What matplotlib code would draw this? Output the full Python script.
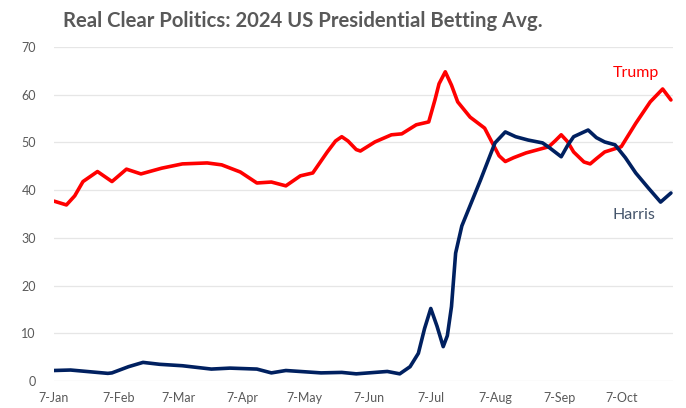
import matplotlib
matplotlib.use('Agg')
import matplotlib.pyplot as plt
import matplotlib.dates as mdates
import pandas as pd

plt.rcParams['font.family'] = ['Lato', 'DejaVu Sans']

# Data (daily betting average, %)
trump_dates = ['2024-01-07', '2024-01-13', '2024-01-17', '2024-01-21', '2024-01-28', '2024-02-04',
               '2024-02-11', '2024-02-18', '2024-02-28', '2024-03-09', '2024-03-21', '2024-03-28',
               '2024-04-06', '2024-04-14', '2024-04-21', '2024-04-28', '2024-05-05', '2024-05-11',
               '2024-05-18', '2024-05-22', '2024-05-25', '2024-05-28', '2024-06-01', '2024-06-03',
               '2024-06-10', '2024-06-18', '2024-06-23', '2024-06-30', '2024-07-06', '2024-07-09',
               '2024-07-11', '2024-07-14', '2024-07-17', '2024-07-20', '2024-07-26', '2024-08-02',
               '2024-08-05', '2024-08-09', '2024-08-12', '2024-08-16', '2024-08-22', '2024-09-02',
               '2024-09-05', '2024-09-08', '2024-09-11', '2024-09-14', '2024-09-19', '2024-09-22',
               '2024-09-25', '2024-09-29', '2024-10-07', '2024-10-14', '2024-10-21', '2024-10-27',
               '2024-10-31']
trump_values = [37.7, 36.9, 38.8, 41.8, 43.9, 41.8,
                44.4, 43.4, 44.6, 45.5, 45.7, 45.3,
                43.8, 41.5, 41.7, 40.9, 43.0, 43.6,
                48.0, 50.3, 51.2, 50.3, 48.5, 48.2,
                50.1, 51.6, 51.8, 53.7, 54.3, 58.9,
                62.3, 64.8, 62.0, 58.5, 55.3, 53.0,
                50.5, 47.2, 46.0, 46.8, 47.8, 49.1,
                50.3, 51.6, 50.2, 48.0, 45.9, 45.5,
                46.6, 48.0, 49.1, 54.0, 58.5, 61.2,
                58.9]

harris_dates = ['2024-01-07', '2024-01-15', '2024-02-02', '2024-02-04', '2024-02-12', '2024-02-19',
                '2024-02-27', '2024-03-09', '2024-03-23', '2024-04-01', '2024-04-14', '2024-04-21',
                '2024-04-28', '2024-05-15', '2024-05-25', '2024-06-01', '2024-06-16', '2024-06-22',
                '2024-06-27', '2024-07-01', '2024-07-04', '2024-07-07', '2024-07-10', '2024-07-13',
                '2024-07-15', '2024-07-17', '2024-07-19', '2024-07-22', '2024-07-31', '2024-08-07',
                '2024-08-12', '2024-08-17', '2024-08-23', '2024-08-30', '2024-09-02', '2024-09-08',
                '2024-09-11', '2024-09-14', '2024-09-21', '2024-09-25', '2024-09-29', '2024-10-04',
                '2024-10-09', '2024-10-14', '2024-10-20', '2024-10-26', '2024-10-31']
harris_values = [2.2, 2.3, 1.6, 1.7, 3.0, 3.9,
                 3.5, 3.2, 2.5, 2.7, 2.5, 1.7,
                 2.2, 1.7, 1.8, 1.5, 2.0, 1.5,
                 3.0, 5.8, 11.0, 15.2, 11.5, 7.2,
                 9.5, 15.6, 26.8, 32.5, 42.1, 49.9,
                 52.2, 51.2, 50.5, 49.9, 49.0, 47.0,
                 49.3, 51.2, 52.6, 51.0, 50.1, 49.5,
                 46.8, 43.6, 40.5, 37.5, 39.4]

trump = pd.Series(trump_values, index=pd.to_datetime(trump_dates))
harris = pd.Series(harris_values, index=pd.to_datetime(harris_dates))

fig = plt.figure(figsize=(6.86, 4.08), dpi=100)
ax = fig.add_axes([54 / 686, 1 - 381 / 408, (673 - 54) / 686, (381 - 47) / 408])

ax.plot(trump.index, trump.values, color='#FF0000', lw=2.6, solid_joinstyle='round', solid_capstyle='round')
ax.plot(harris.index, harris.values, color='#002060', lw=2.6, solid_joinstyle='round', solid_capstyle='round')

ax.set_ylim(0, 70)
ax.set_yticks(range(0, 71, 10))
ax.set_xlim(pd.Timestamp('2024-01-07'), pd.Timestamp('2024-11-01'))
ax.xaxis.set_major_locator(mdates.MonthLocator(bymonthday=7))
ax.xaxis.set_major_formatter(mdates.DateFormatter('%-d-%b'))

ax.grid(True, axis='y', color='#E6E6E6', lw=0.9)
ax.set_axisbelow(True)
for side in ['top', 'right', 'left', 'bottom']:
    ax.spines[side].set_visible(False)
ax.tick_params(length=0, labelsize=9, colors='#595959')
ax.tick_params(axis='y', pad=13)
ax.tick_params(axis='x', pad=8)

ax.text(pd.Timestamp('2024-10-14'), 64.6, 'Trump', color='#FF0000', fontsize=11.5, ha='center', va='center')
ax.text(pd.Timestamp('2024-10-13'), 34.8, 'Harris', color='#44546A', fontsize=11.5, ha='center', va='center')

fig.text(303 / 686, 1 - 21 / 408, 'Real Clear Politics: 2024 US Presidential Betting Avg.',
         fontsize=14.6, fontweight='bold', color='#595959', ha='center', va='center')

fig.savefig('out.png', dpi=100)
